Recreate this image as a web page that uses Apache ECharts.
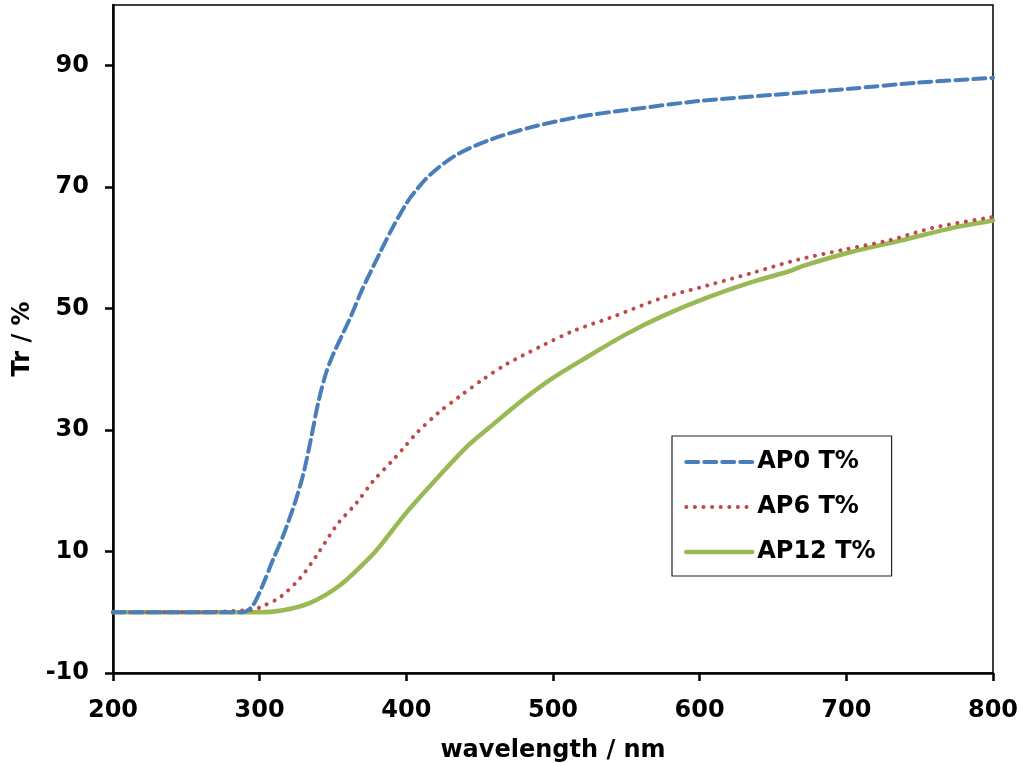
<!DOCTYPE html>
<html>
<head>
<meta charset="utf-8">
<script src="https://cdn.jsdelivr.net/npm/echarts@6/dist/echarts.min.js"></script>
<style>html,body{margin:0;padding:0;background:#fff;}#c{width:1024px;height:763px;}</style>
</head>
<body>
<div id="c"></div>
<script>
const seriesNames = ['AP0 T%', 'AP6 T%', 'AP12 T%'];
const xTicks = [200, 300, 400, 500, 600, 700, 800];
const yTicks = [-10, 10, 30, 50, 70, 90];

const ap0Wl = [200, 250, 288, 295, 301.6, 309, 316, 324, 330, 335, 340, 345, 350, 361.6, 370, 382, 391, 400, 405, 416, 434, 457, 484, 518, 550, 600, 650, 702, 748, 800];
const ap0Tr = [0, 0, 0, 1, 4.2, 8.6, 12.6, 18, 23, 28.6, 34.6, 39.2, 42.4, 48.4, 53.2, 59.2, 63.5, 67.3, 69, 72, 75.3, 77.8, 79.8, 81.6, 82.7, 84.2, 85.2, 86.2, 87.2, 88.0];

const ap6Wl = [200, 250, 295, 302, 314, 327.5, 339, 352.7, 366, 377, 391, 398, 407, 421.6, 436.6, 452, 468.6, 491, 513.6, 539, 575, 605, 636, 666, 698, 730, 759, 800];
const ap6Tr = [0, 0, 0.4, 1, 2.5, 5.6, 9.4, 14.4, 18, 21.5, 25.1, 27.0, 29.5, 32.8, 35.6, 38.3, 40.9, 43.7, 46.3, 48.5, 51.8, 53.8, 55.9, 58, 59.7, 61.3, 63.3, 65.1];

const ap12Wl = [200, 250, 300, 315, 334, 355, 375, 382, 400, 418, 441, 457, 479.5, 500, 523, 550, 575, 605, 636, 661.6, 670, 704.5, 738.6, 772.7, 800];
const ap12Tr = [0, 0, 0, 0.3, 1.5, 4.5, 9.0, 10.9, 16.4, 21.3, 27.2, 30.5, 35, 38.6, 42.0, 45.8, 48.8, 51.8, 54.4, 56.2, 57.0, 59.4, 61.3, 63.3, 64.5];

const pair = (xs, ys) => xs.map((x, i) => [x, ys[i]]);
const FONT = '"DejaVu Sans", "Liberation Sans", Arial, sans-serif';
const BLUE = '#4A7EBB', RED = '#BE4B48', GREEN = '#98B954';
const blueLine = {color: BLUE, width: 4, type: [12, 6], cap: 'round'};
const redLine = {color: RED, width: 4, type: [0.1, 8.5], cap: 'round'};
const greenLine = {color: GREEN, width: 4.5, type: 'solid', cap: 'round'};

const chart = echarts.init(document.getElementById('c'), null, {renderer: 'canvas'});
chart.setOption({
  animation: false,
  backgroundColor: '#fff',
  grid: {left: 113, right: 31, top: 5, bottom: 90, containLabel: false, outerBoundsMode: 'none',
         show: true, borderColor: '#000', borderWidth: 1.5, backgroundColor: 'transparent'},
  legend: {
    orient: 'vertical',
    left: 672, top: 436,
    padding: [14, 16, 12, 12],
    borderColor: '#222', borderWidth: 1.2,
    itemWidth: 66, itemHeight: 14, itemGap: 21,
    itemStyle: {opacity: 0},
    textStyle: {fontFamily: FONT, fontWeight: 'bold', fontSize: 24, color: '#000', lineHeight: 24},
    data: [
      {name: seriesNames[0], lineStyle: blueLine, itemStyle: {opacity: 0}},
      {name: seriesNames[1], lineStyle: redLine, itemStyle: {opacity: 0}},
      {name: seriesNames[2], lineStyle: greenLine, itemStyle: {opacity: 0}}
    ]
  },
  xAxis: {
    type: 'value', min: xTicks[0], max: xTicks[xTicks.length - 1], interval: 100,
    name: 'wavelength / nm', nameLocation: 'middle', nameGap: 66,
    nameTextStyle: {fontFamily: FONT, fontWeight: 'bold', fontSize: 24, color: '#000'},
    axisLine: {onZero: false, lineStyle: {color: '#000', width: 2.5}},
    axisTick: {show: true, inside: false, length: 8, lineStyle: {color: '#000', width: 2.5}},
    axisLabel: {fontFamily: FONT, fontWeight: 'bold', fontSize: 24, color: '#000', margin: 26},
    splitLine: {show: false}
  },
  yAxis: {
    type: 'value', min: -10, max: 100,
    name: 'Tr / %', nameLocation: 'middle', nameGap: 75, nameRotate: 90,
    nameTextStyle: {fontFamily: FONT, fontWeight: 'bold', fontSize: 24, color: '#000'},
    axisLine: {onZero: false, lineStyle: {color: '#000', width: 2.5}},
    axisTick: {show: true, inside: false, length: 8, customValues: yTicks, lineStyle: {color: '#000', width: 2.5}},
    axisLabel: {fontFamily: FONT, fontWeight: 'bold', fontSize: 24, color: '#000', margin: 24, customValues: yTicks},
    splitLine: {show: false}
  },
  series: [
    {name: seriesNames[0], type: 'line', data: pair(ap0Wl, ap0Tr), showSymbol: false, symbol: 'none', smooth: 0.3,
     color: BLUE, lineStyle: blueLine, z: 3},
    {name: seriesNames[1], type: 'line', data: pair(ap6Wl, ap6Tr), showSymbol: false, symbol: 'none', smooth: 0.3,
     color: RED, lineStyle: redLine, z: 2},
    {name: seriesNames[2], type: 'line', data: pair(ap12Wl, ap12Tr), showSymbol: false, symbol: 'none', smooth: 0.3,
     color: GREEN, lineStyle: greenLine, z: 1}
  ]
});
</script>
</body>
</html>
